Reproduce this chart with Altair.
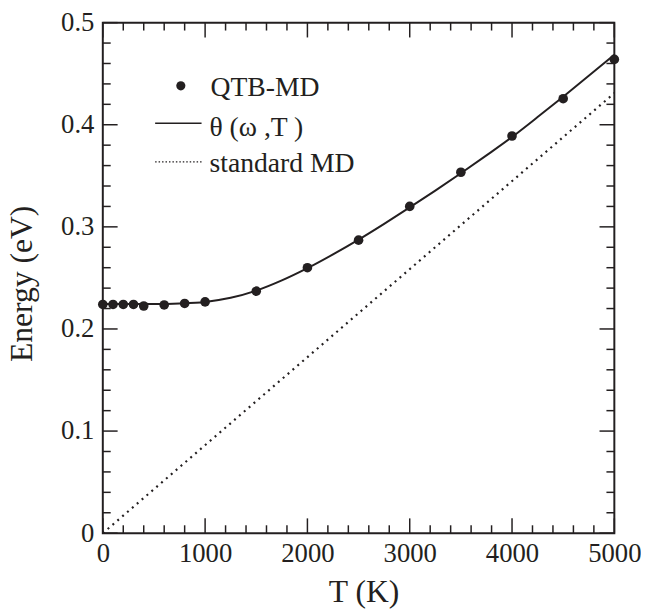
import altair as alt
import pandas as pd

# ---- data ----
qtb_T = [0, 100, 200, 300, 400, 600, 800, 1000, 1500, 2000, 2500, 3000, 3500, 4000, 4500, 5000]
qtb_E = [0.2240, 0.2240, 0.2240, 0.2240, 0.2225, 0.2235, 0.2250, 0.2265, 0.2370, 0.2600,
         0.2870, 0.3200, 0.3535, 0.3890, 0.4255, 0.4640]

theta_T = [0, 250, 500, 750, 1000, 1250, 1500, 1750, 2000, 2250, 2500, 2750, 3000,
           3250, 3500, 3750, 4000, 4250, 4500, 4750, 5000]
theta_E = [0.2245, 0.2245, 0.2245, 0.2250, 0.2265, 0.2305, 0.2375, 0.2475, 0.2595, 0.2730,
           0.2875, 0.3030, 0.3190, 0.3355, 0.3525, 0.3700, 0.3880, 0.4075, 0.4275, 0.4480, 0.4685]

md_T = [0, 5000]
md_E = [0.0, 0.431]

x_major = [0, 1000, 2000, 3000, 4000, 5000]
x_minor = [200, 400, 600, 800, 1200, 1400, 1600, 1800, 2200, 2400, 2600, 2800,
           3200, 3400, 3600, 3800, 4200, 4400, 4600, 4800]
y_major = [0.0, 0.1, 0.2, 0.3, 0.4, 0.5]
y_minor = [0.02, 0.04, 0.06, 0.08, 0.12, 0.14, 0.16, 0.18, 0.22, 0.24, 0.26, 0.28,
           0.32, 0.34, 0.36, 0.38, 0.42, 0.44, 0.46, 0.48]

legend_labels = ["QTB-MD", "θ (ω ,T )", "standard MD"]

# ---- styling ----
INK = "#231f20"
FONT = "Liberation Serif"
W, H = 518, 517
MAJ, MIN = 15, 8

xscale = alt.Scale(domain=[0, 5000], nice=False, zero=False)
yscale = alt.Scale(domain=[0, 0.5], nice=False, zero=False)

df_qtb = pd.DataFrame({"T": qtb_T, "E": qtb_E})
df_theta = pd.DataFrame({"T": theta_T, "E": theta_E})
df_md = pd.DataFrame({"T": md_T, "E": md_E})

x_axis = alt.Axis(values=x_major, domain=False, ticks=False, tickSize=0, grid=False,
                  labelFont=FONT, labelFontSize=27, labelColor=INK, labelPadding=8,
                  labelFlush=False, labelExpr="format(datum.value, 'd')",
                  title="T (K)", titleFont=FONT, titleFontSize=32, titleFontWeight="normal",
                  titleColor=INK, titleX=264, titleY=69, titleBaseline="alphabetic",
                  titleAlign="center")
y_axis = alt.Axis(values=y_major, domain=False, ticks=False, tickSize=0, grid=False,
                  labelFont=FONT, labelFontSize=27, labelColor=INK, labelPadding=9,
                  labelFlush=False,
                  labelExpr="datum.value == 0 ? '0' : format(datum.value, '.1f')",
                  title="Energy (eV)", titleFont=FONT, titleFontSize=32,
                  titleFontWeight="normal",
                  titleColor=INK, titleX=-72, titleY=264, titleBaseline="alphabetic",
                  titleAlign="center", titleAngle=270)

theta_line = alt.Chart(df_theta).mark_line(color=INK, strokeWidth=2, interpolate="monotone").encode(
    x=alt.X("T:Q", scale=xscale, axis=x_axis),
    y=alt.Y("E:Q", scale=yscale, axis=y_axis),
)

md_line = alt.Chart(df_md).mark_line(color=INK, strokeWidth=2.2, strokeDash=[2, 4.5], clip=True).encode(
    x=alt.X("T:Q", scale=xscale),
    y=alt.Y("E:Q", scale=yscale),
)

dots = alt.Chart(df_qtb).mark_point(filled=True, shape="circle", size=95, color=INK, opacity=1).encode(
    x=alt.X("T:Q", scale=xscale),
    y=alt.Y("E:Q", scale=yscale),
)


def xticks(vals, length):
    d = pd.DataFrame({"T": vals})
    bottom = alt.Chart(d).mark_rule(color=INK, strokeWidth=1.5).encode(
        x=alt.X("T:Q", scale=xscale), y=alt.value(H), y2=alt.value(H - length))
    top = alt.Chart(d).mark_rule(color=INK, strokeWidth=1.5).encode(
        x=alt.X("T:Q", scale=xscale), y=alt.value(0), y2=alt.value(length))
    return [bottom, top]


def yticks(vals, length):
    d = pd.DataFrame({"E": vals})
    left = alt.Chart(d).mark_rule(color=INK, strokeWidth=1.5).encode(
        y=alt.Y("E:Q", scale=yscale), x=alt.value(0), x2=alt.value(length))
    right = alt.Chart(d).mark_rule(color=INK, strokeWidth=1.5).encode(
        y=alt.Y("E:Q", scale=yscale), x=alt.value(W), x2=alt.value(W - length))
    return [left, right]


ticks = xticks(x_major, MAJ) + xticks(x_minor, MIN) + yticks(y_major, MAJ) + yticks(y_minor, MIN)

# ---- legend ----
lab0 = pd.DataFrame({"label": [legend_labels[0]]})
lab1 = pd.DataFrame({"label": [legend_labels[1]]})
lab2 = pd.DataFrame({"label": [legend_labels[2]]})

leg_dot = alt.Chart(lab0).mark_point(filled=True, shape="circle", size=85, color=INK, opacity=1).encode(
    x=alt.value(79), y=alt.value(64))
leg_line = alt.Chart(lab1).mark_rule(color=INK, strokeWidth=1.5).encode(
    x=alt.value(53), x2=alt.value(100), y=alt.value(102))
leg_dash = alt.Chart(lab2).mark_rule(color=INK, strokeWidth=1.5, strokeDash=[1.5, 2]).encode(
    x=alt.value(53), x2=alt.value(100), y=alt.value(141))

def leg_text(d, x, y):
    return alt.Chart(d).mark_text(font=FONT, fontSize=28, color=INK, align="left",
                                  baseline="alphabetic").encode(
        x=alt.value(x), y=alt.value(y), text="label:N")

legend = [leg_dot, leg_line, leg_dash,
          leg_text(lab0, 109, 74), leg_text(lab1, 108, 115), leg_text(lab2, 108, 151)]

chart = alt.layer(md_line, theta_line, *ticks, dots, *legend).properties(
    width=W, height=H,
    autosize=alt.AutoSizeParams(type="none"),
    padding={"left": 96, "top": 11, "right": 27, "bottom": 77},
    background="white",
).configure_view(stroke=INK, strokeWidth=2)

chart.save("out.html", embed_options={"renderer": "svg", "actions": False})
